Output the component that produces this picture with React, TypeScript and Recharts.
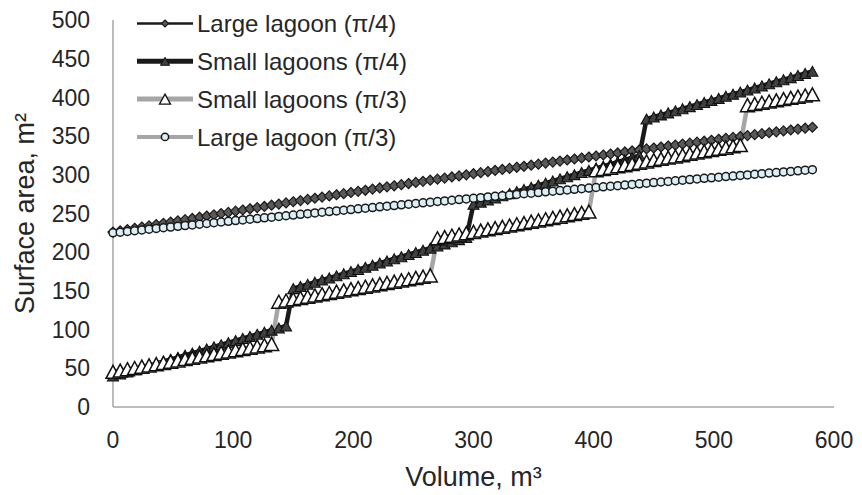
import { LineChart, Line, XAxis, YAxis, Legend, Label } from "recharts";

// ─── Data ────────────────────────────────────────────────

const volume = [
  0, 6, 12, 18, 24, 30, 36, 42, 48, 54, 60, 66, 72, 78, 84, 90, 96, 102, 108, 114,
  120, 126, 132, 138, 144, 150, 156, 162, 168, 174, 180, 186, 192, 198, 204, 210, 216, 222, 228, 234,
  240, 246, 252, 258, 264, 270, 276, 282, 288, 294, 300, 306, 312, 318, 324, 330, 336, 342, 348, 354,
  360, 366, 372, 378, 384, 390, 396, 402, 408, 414, 420, 426, 432, 438, 444, 450, 456, 462, 468, 474,
  480, 486, 492, 498, 504, 510, 516, 522, 528, 534, 540, 546, 552, 558, 564, 570, 576, 582,
];

const largeLagoon45 = [
  226.0, 227.6, 229.2, 230.9, 232.5, 234.1, 235.7, 237.3, 238.9, 240.5,
  242.0, 243.6, 245.2, 246.8, 248.3, 249.9, 251.4, 253.0, 254.5, 256.1,
  257.6, 259.1, 260.7, 262.2, 263.7, 265.2, 266.7, 268.2, 269.7, 271.2,
  272.7, 274.2, 275.6, 277.1, 278.6, 280.0, 281.5, 283.0, 284.4, 285.8,
  287.3, 288.7, 290.2, 291.6, 293.0, 294.4, 295.8, 297.2, 298.6, 300.0,
  301.4, 302.8, 304.2, 305.6, 306.9, 308.3, 309.7, 311.0, 312.4, 313.7,
  315.1, 316.4, 317.7, 319.1, 320.4, 321.7, 323.0, 324.3, 325.6, 326.9,
  328.2, 329.5, 330.8, 332.1, 333.4, 334.6, 335.9, 337.2, 338.4, 339.7,
  340.9, 342.2, 343.4, 344.6, 345.9, 347.1, 348.3, 349.5, 350.7, 351.9,
  353.1, 354.3, 355.5, 356.7, 357.9, 359.1, 360.2, 361.4,
];

const smallLagoons45 = [
  // 1 lagoon
  40.0, 42.7, 45.4, 48.1, 50.8, 53.5, 56.2, 58.9, 61.6, 64.2,
  66.9, 69.6, 72.3, 75.0, 77.7, 80.4, 83.1, 85.8, 88.5, 91.2,
  93.9, 96.6, 99.3, 102.0, 104.7,
  // 2 lagoons
  153.0, 155.7, 158.5, 161.2, 164.0, 166.7, 169.5, 172.2, 175.0, 177.7,
  180.5, 183.2, 186.0, 188.7, 191.5, 194.2, 197.0, 199.7, 202.5, 205.2,
  208.0, 210.7, 213.5, 216.2, 219.0,
  // 3 lagoons
  262.0, 264.7, 267.5, 270.2, 272.9, 275.7, 278.4, 281.1, 283.8, 286.6,
  289.3, 292.0, 294.8, 297.5, 300.2, 303.0, 305.7, 308.4, 311.1, 313.9,
  316.6, 319.3, 322.1, 324.8,
  // 4 lagoons
  372.0, 374.7, 377.4, 380.0, 382.7, 385.4, 388.1, 390.8, 393.4, 396.1,
  398.8, 401.5, 404.2, 406.9, 409.5, 412.2, 414.9, 417.6, 420.3, 422.9,
  425.6, 428.3, 431.0, 433.7,
];

const smallLagoons60 = [
  // 1 lagoon
  45.5, 47.1, 48.8, 50.4, 52.1, 53.7, 55.3, 57.0, 58.6, 60.2,
  61.9, 63.5, 65.2, 66.8, 68.4, 70.1, 71.7, 73.3, 75.0, 76.6,
  78.3, 79.9, 81.5,
  // 2 lagoons
  136.0, 137.6, 139.2, 140.9, 142.5, 144.1, 145.7, 147.3, 149.0, 150.6,
  152.2, 153.8, 155.4, 157.1, 158.7, 160.3, 161.9, 163.5, 165.1, 166.8,
  168.4, 170.0,
  // 3 lagoons
  218.0, 219.6, 221.3, 222.9, 224.6, 226.2, 227.9, 229.5, 231.2, 232.8,
  234.4, 236.1, 237.7, 239.4, 241.0, 242.6, 244.3, 245.9, 247.6, 249.2,
  250.9, 252.5,
  // 4 lagoons
  306.0, 307.6, 309.2, 310.9, 312.5, 314.1, 315.7, 317.3, 319.0, 320.6,
  322.2, 323.8, 325.4, 327.1, 328.7, 330.3, 331.9, 333.5, 335.1, 336.8,
  338.4,
  // 5 lagoons
  390.0, 391.6, 393.1, 394.7, 396.2, 397.8, 399.4, 400.9, 402.5, 404.0,
];

const largeLagoon60 = [
  225.0, 225.9, 226.9, 227.8, 228.8, 229.7, 230.7, 231.6, 232.5, 233.4,
  234.4, 235.3, 236.2, 237.1, 238.1, 239.0, 239.9, 240.8, 241.7, 242.6,
  243.5, 244.4, 245.3, 246.2, 247.1, 248.0, 248.9, 249.8, 250.7, 251.6,
  252.5, 253.3, 254.2, 255.1, 256.0, 256.9, 257.7, 258.6, 259.5, 260.3,
  261.2, 262.0, 262.9, 263.8, 264.6, 265.5, 266.3, 267.1, 268.0, 268.8,
  269.7, 270.5, 271.4, 272.2, 273.0, 273.8, 274.7, 275.5, 276.3, 277.1,
  278.0, 278.8, 279.6, 280.4, 281.2, 282.0, 282.8, 283.6, 284.4, 285.2,
  286.0, 286.8, 287.6, 288.4, 289.2, 290.0, 290.7, 291.5, 292.3, 293.1,
  293.8, 294.6, 295.4, 296.1, 296.9, 297.7, 298.4, 299.2, 299.9, 300.7,
  301.5, 302.2, 302.9, 303.7, 304.4, 305.2, 305.9, 306.6,
];

const xTicks = [0, 100, 200, 300, 400, 500, 600];
const yTicks = [0, 50, 100, 150, 200, 250, 300, 350, 400, 450, 500];

const data = volume.map((v, i) => ({
  volume: v,
  large45: largeLagoon45[i],
  small45: smallLagoons45[i],
  small60: smallLagoons60[i],
  large60: largeLagoon60[i],
}));

// ─── Styles ──────────────────────────────────────────────

const FONT = '"Liberation Sans", Arial, sans-serif';
const TEXT = "#262626";
const AXIS = "#a6a6a6";
const GRAY_LINE = "#a6a6a6";

// ─── Markers ─────────────────────────────────────────────

interface DotProps {
  cx?: number;
  cy?: number;
  index?: number;
}

function Diamond({ cx, cy, r = 5 }: DotProps & { r?: number }) {
  if (cx == null || cy == null) return null;
  return (
    <path
      d={`M${cx},${cy - r}L${cx + r},${cy}L${cx},${cy + r}L${cx - r},${cy}Z`}
      fill="#595959"
      stroke="#1a1a1a"
      strokeWidth={1.2}
    />
  );
}

function Triangle({
  cx,
  cy,
  w,
  h,
  fill,
  sw,
}: DotProps & { w: number; h: number; fill: string; sw: number }) {
  if (cx == null || cy == null) return null;
  return (
    <path
      d={`M${cx},${cy - h / 2}L${cx + w / 2},${cy + h / 2}L${cx - w / 2},${cy + h / 2}Z`}
      fill={fill}
      stroke="#111"
      strokeWidth={sw}
    />
  );
}

function Ring({ cx, cy, r = 4 }: DotProps & { r?: number }) {
  if (cx == null || cy == null) return null;
  return <circle cx={cx} cy={cy} r={r} fill="#dbeff4" stroke="#1a1a1a" strokeWidth={1.5} />;
}

// ─── Legend ──────────────────────────────────────────────

const legendRows = [
  { name: "Large lagoon (π/4)", stroke: "#1a1a1a", width: 2.5 },
  { name: "Small lagoons (π/4)", stroke: "#1a1a1a", width: 5 },
  { name: "Small lagoons (π/3)", stroke: GRAY_LINE, width: 5 },
  { name: "Large lagoon (π/3)", stroke: GRAY_LINE, width: 4 },
];

function LegendContent() {
  return (
    <svg width={320} height={150} style={{ display: "block" }}>
      {legendRows.map((row, i) => {
        const y = 15.5 + i * 37.8;
        return (
          <g key={row.name}>
            <line x1={7} x2={63} y1={y} y2={y} stroke={row.stroke} strokeWidth={row.width} />
            {i === 0 && <Diamond cx={35} cy={y} r={3.5} />}
            {i === 1 && <Triangle cx={35} cy={y} w={9} h={8} fill="#404040" sw={1} />}
            {i === 2 && <Triangle cx={35} cy={y} w={11} h={10} fill="#fff" sw={1.3} />}
            {i === 3 && <Ring cx={35} cy={y} r={3.6} />}
            <text x={67} y={y} dy="0.36em" fontSize={24} fontFamily={FONT} fill={TEXT}>
              {row.name}
            </text>
          </g>
        );
      })}
    </svg>
  );
}

// ─── Chart ───────────────────────────────────────────────

export default function App() {
  const tickStyle = { fontSize: 23, fill: TEXT, fontFamily: FONT };
  return (
    <div style={{ position: "absolute", left: 0, top: 0, width: 862, height: 495, background: "#fff" }}>
      <LineChart width={862} height={495} data={data} margin={{ top: 20, right: 28, left: 0, bottom: 0 }}>
        <XAxis
          type="number"
          dataKey="volume"
          domain={[0, 600]}
          ticks={xTicks}
          tickLine={false}
          tickSize={0}
          tickMargin={25}
          height={88}
          axisLine={{ stroke: AXIS, strokeWidth: 1.5 }}
          tick={tickStyle}
        >
          <Label
            value="Volume, m³"
            position="insideBottom"
            offset={9}
            style={{ fontSize: 27, fill: TEXT, fontFamily: FONT }}
          />
        </XAxis>
        <YAxis
          type="number"
          domain={[0, 500]}
          ticks={yTicks}
          tickLine={false}
          tickSize={0}
          tickMargin={23}
          width={113}
          axisLine={{ stroke: AXIS, strokeWidth: 1.5 }}
          tick={tickStyle}
        >
          <Label
            value="Surface area, m²"
            angle={-90}
            position="insideLeft"
            offset={24}
            style={{ fontSize: 27, fill: TEXT, fontFamily: FONT, textAnchor: "middle" }}
          />
        </YAxis>
        <Legend
          layout="vertical"
          align="center"
          verticalAlign="middle"
          content={() => <LegendContent />}
          wrapperStyle={{ left: 130, top: 8, width: 320, height: 150 }}
        />
        <Line
          type="linear"
          dataKey="large45"
          stroke="#1a1a1a"
          strokeWidth={2}
          isAnimationActive={false}
          activeDot={false}
          dot={(p: DotProps) => <Diamond key={`a${p.index}`} cx={p.cx} cy={p.cy} />}
        />
        <Line
          type="linear"
          dataKey="small45"
          stroke="#1a1a1a"
          strokeWidth={4.5}
          isAnimationActive={false}
          activeDot={false}
          dot={(p: DotProps) => (
            <Triangle key={`b${p.index}`} cx={p.cx} cy={p.cy} w={11} h={10} fill="#404040" sw={1.1} />
          )}
        />
        <Line
          type="linear"
          dataKey="small60"
          stroke={GRAY_LINE}
          strokeWidth={4.5}
          isAnimationActive={false}
          activeDot={false}
          dot={(p: DotProps) => (
            <Triangle key={`c${p.index}`} cx={p.cx} cy={p.cy} w={14} h={13} fill="#fff" sw={1.5} />
          )}
        />
        <Line
          type="linear"
          dataKey="large60"
          stroke={GRAY_LINE}
          strokeWidth={2.5}
          isAnimationActive={false}
          activeDot={false}
          dot={(p: DotProps) => <Ring key={`d${p.index}`} cx={p.cx} cy={p.cy} />}
        />
      </LineChart>
    </div>
  );
}
